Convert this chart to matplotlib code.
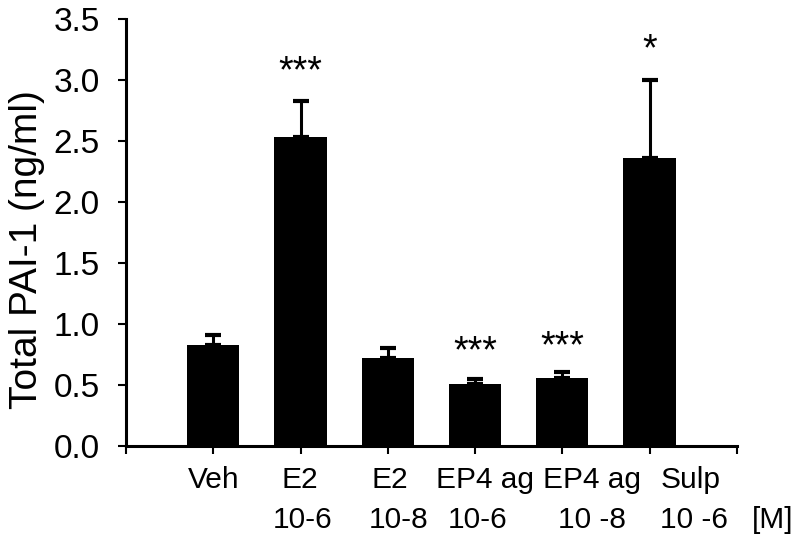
import matplotlib
matplotlib.use("Agg")
import matplotlib.pyplot as plt
import matplotlib.transforms as mtransforms

means = [0.83, 2.53, 0.72, 0.51, 0.56, 2.36]
errs = [0.08, 0.30, 0.08, 0.04, 0.05, 0.64]
stars = ["", "***", "", "***", "***", "*"]
star_y = [0, 2.98, 0, 0.69, 0.73, 3.16]

# category labels are set off by hand in the original, not centred on ticks
names = ["Veh", "E2", "E2", "EP4 ag", "EP4 ag", "Sulp"]
names_x = [1.0, 1.99, 3.02, 4.11, 5.34, 6.47]
doses = ["10-6", "10-8", "10-6", "10 -8", "10 -6", "[M]"]
doses_x = [2.02, 3.12, 4.03, 5.34, 6.51, 7.41]

plt.rcParams["font.family"] = ["Liberation Sans", "DejaVu Sans"]

fig = plt.figure(figsize=(8, 5.37), dpi=100)
ax = fig.add_axes([0.1575, 0.1695, 0.921 - 0.1575, 0.9646 - 0.1695])

pos = list(range(1, len(means) + 1))
ax.bar(pos, means, width=0.6, color="black", zorder=2)
ax.errorbar(pos, means, yerr=[[0] * len(errs), errs], fmt="none", ecolor="black",
            elinewidth=2.2, capsize=6, capthick=3, zorder=1)

for x, s, y in zip(pos, stars, star_y):
    if s:
        ax.text(x, y, s, ha="center", va="baseline", fontsize=27)

ax.set_xlim(0, 7)
ax.set_ylim(0, 3.5)
ax.set_xticks(range(0, 8))
ax.set_xticklabels([])
ax.set_yticks([0, 0.5, 1, 1.5, 2, 2.5, 3, 3.5])
ax.set_yticklabels(["0.0", "0.5", "1.0", "1.5", "2.0", "2.5", "3.0", "3.5"], fontsize=24)
ax.set_ylabel("Total PAI-1 (ng/ml)", fontsize=28)
ax.yaxis.set_label_coords(-0.133, 0.461)

trans = mtransforms.blended_transform_factory(ax.transData, ax.transAxes)
for x, s in zip(names_x, names):
    ax.text(x, -0.098, s, transform=trans, ha="center", va="baseline", fontsize=21.5, clip_on=False)
for x, s in zip(doses_x, doses):
    ax.text(x, -0.192, s, transform=trans, ha="center", va="baseline", fontsize=21.5, clip_on=False)

for s in ["top", "right"]:
    ax.spines[s].set_visible(False)
for s in ["left", "bottom"]:
    ax.spines[s].set_linewidth(2.2)
ax.tick_params(axis="both", direction="out", length=6, width=1.5)
ax.tick_params(axis="y", pad=13)

fig.savefig("out.png", dpi=100)
